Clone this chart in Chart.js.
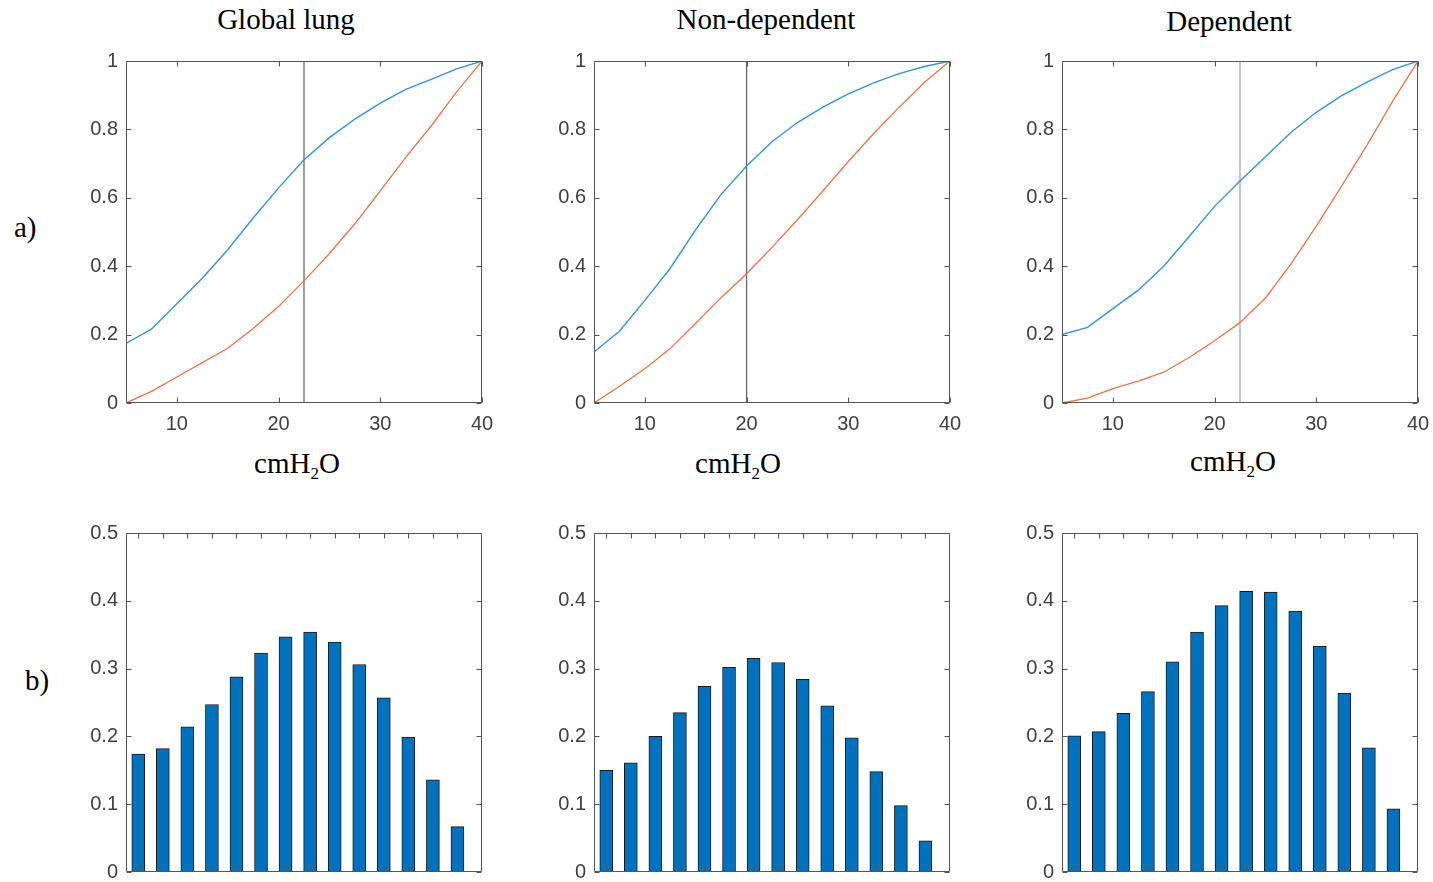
<!DOCTYPE html>
<html>
<head>
<meta charset="utf-8">
<script src="https://cdn.jsdelivr.net/npm/chart.js@4.4.1/dist/chart.umd.min.js"></script>
<style>
  body { margin: 0; width: 1433px; height: 882px; background: #fff; position: relative; overflow: hidden; }
  canvas { position: absolute; }
  .lbl { position: absolute; font-family: "Liberation Serif", "Times New Roman", serif; font-size: 29px; line-height: 1; color: #000; white-space: nowrap; }
  .mid { transform: translateX(-50%); }
  .lbl sub { font-size: 17px; vertical-align: baseline; position: relative; top: 6px; }
</style>
</head>
<body>

<div class="lbl mid" style="left:286px;top:5px">Global lung</div>
<div class="lbl mid" style="left:766px;top:5px">Non-dependent</div>
<div class="lbl mid" style="left:1229px;top:7px">Dependent</div>

<div class="lbl mid" style="left:297px;top:449px">cmH<sub>2</sub>O</div>
<div class="lbl mid" style="left:738px;top:449px">cmH<sub>2</sub>O</div>
<div class="lbl mid" style="left:1233px;top:447px">cmH<sub>2</sub>O</div>

<div class="lbl" style="left:14px;top:213px">a)</div>
<div class="lbl" style="left:25px;top:666px">b)</div>

<script>
// pressure steps (cmH2O)
var pressure = [5, 7.5, 10, 12.5, 15, 17.5, 20, 22.5, 25, 27.5, 30, 32.5, 35, 37.5, 40];
var barPressure = [5, 7.5, 10, 12.5, 15, 17.5, 20, 22.5, 25, 27.5, 30, 32.5, 35, 37.5];
var curveTicksX = [10, 20, 30, 40];
var curveTicksY = [0, 0.2, 0.4, 0.6, 0.8, 1];
var barTicksY = [0, 0.1, 0.2, 0.3, 0.4, 0.5];

// global lung
var globalLineA = [0.174, 0.216, 0.290, 0.365, 0.448, 0.541, 0.629, 0.711, 0.776, 0.830, 0.877, 0.917, 0.946, 0.977, 1];
var globalLineB = [0, 0.034, 0.076, 0.118, 0.160, 0.218, 0.282, 0.357, 0.437, 0.524, 0.620, 0.718, 0.810, 0.910, 1];
var globalDiff = [0.174, 0.182, 0.214, 0.247, 0.288, 0.323, 0.347, 0.354, 0.339, 0.306, 0.257, 0.199, 0.136, 0.067];
var globalMark = 22.5;

// non-dependent region
var nondepLineA = [0.149, 0.210, 0.300, 0.394, 0.507, 0.610, 0.693, 0.764, 0.820, 0.865, 0.904, 0.936, 0.963, 0.984, 1];
var nondepLineB = [0, 0.049, 0.100, 0.159, 0.233, 0.308, 0.378, 0.455, 0.536, 0.620, 0.706, 0.788, 0.865, 0.938, 1];
var nondepDiff = [0.150, 0.161, 0.200, 0.235, 0.274, 0.302, 0.315, 0.309, 0.284, 0.245, 0.198, 0.148, 0.098, 0.046];
var nondepMark = 20;

// dependent region
var depLineA = [0.200, 0.221, 0.276, 0.330, 0.400, 0.487, 0.575, 0.649, 0.720, 0.791, 0.850, 0.899, 0.938, 0.975, 1];
var depLineB = [0, 0.014, 0.042, 0.064, 0.090, 0.133, 0.182, 0.235, 0.307, 0.406, 0.517, 0.635, 0.755, 0.882, 1];
var depDiff = [0.201, 0.207, 0.234, 0.266, 0.310, 0.354, 0.393, 0.414, 0.413, 0.385, 0.333, 0.264, 0.183, 0.093];
var depMark = 22.5;

var panels = [
  { left: 126, a: globalLineA, b: globalLineB, diff: globalDiff, mark: globalMark, markColor: '#6a6a6a' },
  { left: 594, a: nondepLineA, b: nondepLineB, diff: nondepDiff, mark: nondepMark, markColor: '#6a6a6a' },
  { left: 1062, a: depLineA, b: depLineB, diff: depDiff, mark: depMark, markColor: '#a6a6a6' }
];

var tickFont = { family: '"Liberation Sans", Arial, sans-serif', size: 20 };
var tickColor = '#404040';

function xy(xs, ys) {
  return xs.map(function(x, i) { return { x: x, y: ys[i] }; });
}

function fixedTicks(list) {
  return function(scale) { scale.ticks = list.map(function(v) { return { value: v }; }); };
}

// box around the plot area with inward tick marks on all four sides
var framePlugin = {
  id: 'frame',
  afterDatasetsDraw: function(chart) {
    var ctx = chart.ctx, a = chart.chartArea;
    var xs = chart.scales.x, ys = chart.scales.y;
    var L = Math.round(a.left) + 0.5, R = Math.round(a.right) - 0.5;
    var T = Math.round(a.top) + 0.5, B = Math.round(a.bottom) - 0.5;
    var len = 5;
    ctx.save();
    ctx.strokeStyle = '#555';
    ctx.lineWidth = 1;
    ctx.beginPath();
    xs.ticks.forEach(function(t) {
      var p = Math.round(xs.getPixelForValue(t.value)) + 0.5;
      ctx.moveTo(p, B); ctx.lineTo(p, B - len);
      ctx.moveTo(p, T); ctx.lineTo(p, T + len);
    });
    ys.ticks.forEach(function(t) {
      var p = Math.round(ys.getPixelForValue(t.value)) + 0.5;
      ctx.moveTo(L, p); ctx.lineTo(L + len, p);
      ctx.moveTo(R, p); ctx.lineTo(R - len, p);
    });
    ctx.rect(L, T, R - L, B - T);
    ctx.stroke();
    ctx.restore();
  }
};

function makeCanvas(left, top, w, h) {
  var c = document.createElement('canvas');
  c.width = w; c.height = h;
  c.style.left = left + 'px'; c.style.top = top + 'px';
  c.style.width = w + 'px'; c.style.height = h + 'px';
  document.body.appendChild(c);
  return c.getContext('2d');
}

panels.forEach(function(p) {
  // a) cumulative curves
  var ctxTop = makeCanvas(p.left - 50, 49, 428, 394);
  new Chart(ctxTop, {
    type: 'line',
    data: {
      datasets: [
        { data: xy(pressure, p.a), borderColor: '#3394d6', borderWidth: 1.4, pointRadius: 0, tension: 0 },
        { data: xy(pressure, p.b), borderColor: '#ea7448', borderWidth: 1.3, pointRadius: 0, tension: 0 },
        { data: [{ x: p.mark, y: 0 }, { x: p.mark, y: 1 }], borderColor: p.markColor, borderWidth: 1.3, pointRadius: 0 }
      ]
    },
    options: {
      responsive: false,
      animation: false,
      devicePixelRatio: 1,
      layout: { padding: { top: 12, right: 22, left: 0, bottom: 0 } },
      plugins: { legend: { display: false }, tooltip: { enabled: false } },
      scales: {
        x: {
          type: 'linear', min: 5, max: 40,
          grid: { display: false }, border: { display: false },
          afterBuildTicks: fixedTicks(curveTicksX),
          afterFit: function(s) { s.height = 40; },
          ticks: { font: tickFont, color: tickColor, padding: 1, autoSkip: false, maxRotation: 0,
                   callback: function(v) { return String(v); } }
        },
        y: {
          type: 'linear', min: 0, max: 1,
          grid: { display: false }, border: { display: false },
          afterBuildTicks: fixedTicks(curveTicksY),
          afterFit: function(s) { s.width = 50; },
          ticks: { font: tickFont, color: tickColor, padding: 0, autoSkip: false,
                   callback: function(v) { return String(v); } }
        }
      }
    },
    plugins: [framePlugin]
  });

  // b) difference between the curves per pressure step
  var ctxBot = makeCanvas(p.left - 50, 521, 428, 363);
  new Chart(ctxBot, {
    type: 'bar',
    data: {
      datasets: [
        { data: xy(barPressure, p.diff), backgroundColor: '#0072bd', borderColor: '#1a1a1a',
          borderWidth: 1, barThickness: 13, borderSkipped: false }
      ]
    },
    options: {
      responsive: false,
      animation: false,
      devicePixelRatio: 1,
      layout: { padding: { top: 12, right: 22, left: 0, bottom: 0 } },
      plugins: { legend: { display: false }, tooltip: { enabled: false } },
      scales: {
        x: {
          type: 'linear', min: 3.75, max: 40, offset: false,
          grid: { display: false, offset: false }, border: { display: false },
          afterBuildTicks: fixedTicks(barPressure),
          afterFit: function(s) { s.height = 10; },
          ticks: { display: false }
        },
        y: {
          type: 'linear', min: 0, max: 0.5,
          grid: { display: false }, border: { display: false },
          afterBuildTicks: fixedTicks(barTicksY),
          afterFit: function(s) { s.width = 50; },
          ticks: { font: tickFont, color: tickColor, padding: 0, autoSkip: false,
                   callback: function(v) { return String(v); } }
        }
      }
    },
    plugins: [framePlugin]
  });
});
</script>
</body>
</html>
